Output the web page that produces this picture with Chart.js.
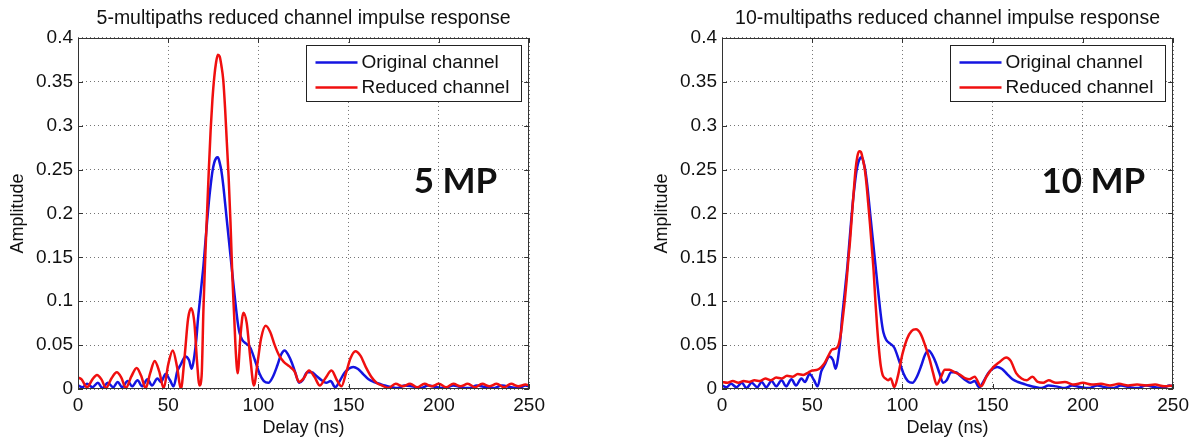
<!DOCTYPE html>
<html>
<head>
<meta charset="utf-8">
<script src="https://cdn.jsdelivr.net/npm/chart.js@4.4.1/dist/chart.umd.min.js"></script>
<style>
  body { margin: 0; background: #fff; }
  canvas { position: absolute; top: 0; }
  #chart5 { left: 0; }
  #chart10 { left: 644px; }
</style>
</head>
<body>
<canvas id="chart5" width="550" height="441"></canvas>
<canvas id="chart10" width="550" height="441"></canvas>
<script>
// tick labels
var delayTicks = ['0', '50', '100', '150', '200', '250'];
var ampTicks = ['0', '0.05', '0.1', '0.15', '0.2', '0.25', '0.3', '0.35', '0.4'];

// original channel (same in both plots)
var delayOriginal = [0, 2.5, 5, 8, 11, 13.5, 16.5, 19.5, 22, 24.5,
    27.5, 30, 33, 35.5, 38.5, 41, 44, 46, 48.5, 51,
    53, 55, 57, 59.5, 61.5, 63, 64.5, 65.5, 66.5, 67.5,
    68.5, 69.5, 70.5, 71.5, 72.5, 73.5, 74.5, 75.5, 76.5, 77.5,
    78.5, 79.5, 80.5, 81.5, 82.5, 83.5, 84.5, 85.5, 86.5, 87.5,
    88.5, 89.5, 91, 93, 95.5, 98, 100.5, 103, 105.5, 108,
    110.5, 112.5, 114.5, 116.5, 118.5, 120.5, 122.5, 124.5, 127, 129.5,
    132, 135, 137.5, 140, 142.5, 145, 147.5, 150, 152.5, 155,
    158, 161, 164, 167, 170, 174, 177, 181, 185, 190,
    194, 199, 203, 208, 212, 217, 221, 226, 230, 235,
    240, 244, 248, 250];
var ampOriginal = [0.004, 0.002, 0.006, 0.002, 0.007, 0.001, 0.007, 0.002, 0.008, 0.002,
    0.009, 0.003, 0.010, 0.003, 0.011, 0.004, 0.012, 0.008, 0.017, 0.010,
    0.003, 0.020, 0.028, 0.037, 0.033, 0.023, 0.038, 0.055, 0.080, 0.100,
    0.120, 0.140, 0.165, 0.190, 0.213, 0.232, 0.248, 0.258, 0.263, 0.264,
    0.258, 0.248, 0.232, 0.212, 0.192, 0.172, 0.152, 0.132, 0.112, 0.093,
    0.076, 0.064, 0.056, 0.052, 0.047, 0.033, 0.018, 0.009, 0.007, 0.014,
    0.027, 0.039, 0.044, 0.039, 0.030, 0.018, 0.007, 0.010, 0.019, 0.019,
    0.015, 0.010, 0.007, 0.009, 0.002, 0.009, 0.018, 0.023, 0.025, 0.023,
    0.017, 0.011, 0.008, 0.006, 0.004, 0.002, 0.001, 0.004, 0.003, 0.001,
    0.004, 0.002, 0.001, 0.004, 0.002, 0.001, 0.004, 0.002, 0.001, 0.004,
    0.002, 0.001, 0.004, 0.003];

// reduced channel, 5 multipaths
var delayReduced5 = [0, 2, 5, 8, 10.5, 13, 15.5, 18.5, 21.5, 24,
    26.5, 29.5, 32.5, 35, 37.5, 40, 42.5, 45, 47.5, 50,
    52.5, 55, 57, 59, 61, 62.7, 64.5, 66, 67.3, 68.5,
    69.5, 70.5, 71.5, 72.5, 73.5, 74.5, 75.5, 76.5, 77.5, 78.5,
    79.5, 80.5, 81.5, 82.5, 83.5, 84.5, 85.5, 86.5, 87.5, 88.5,
    90, 91.7, 93.5, 95.5, 97.5, 99.5, 101.5, 104, 106.5, 109,
    111.5, 114, 117, 120, 122.5, 125, 128, 131, 134, 137,
    140.5, 143.5, 146, 148.5, 151, 153.7, 156.5, 159.5, 162.5, 165.5,
    168.5, 172, 176, 180, 184, 188, 192, 196, 200, 204,
    208, 212, 216, 220, 224, 228, 232, 236, 240, 244,
    248, 250];
var ampReduced5 = [0.013, 0.011, 0.002, 0.011, 0.016, 0.011, 0.001, 0.012, 0.019, 0.013,
    0.001, 0.014, 0.024, 0.015, 0.001, 0.018, 0.032, 0.020, 0.001, 0.028,
    0.044, 0.024, 0.000, 0.035, 0.080, 0.092, 0.075, 0.030, 0.004, 0.015,
    0.090, 0.150, 0.200, 0.250, 0.295, 0.330, 0.355, 0.372, 0.381, 0.379,
    0.368, 0.352, 0.320, 0.280, 0.240, 0.190, 0.130, 0.085, 0.040, 0.018,
    0.060, 0.087, 0.075, 0.035, 0.004, 0.030, 0.058, 0.072, 0.065, 0.050,
    0.038, 0.031, 0.026, 0.020, 0.008, 0.012, 0.021, 0.014, 0.004, 0.012,
    0.021, 0.010, 0.003, 0.018, 0.035, 0.043, 0.038, 0.025, 0.014, 0.007,
    0.004, 0.001, 0.006, 0.003, 0.006, 0.002, 0.006, 0.003, 0.006, 0.002,
    0.006, 0.003, 0.006, 0.002, 0.006, 0.003, 0.006, 0.002, 0.006, 0.003,
    0.005, 0.004];

// reduced channel, 10 multipaths
var delayReduced10 = [0, 3, 6, 9, 12, 15, 18, 21, 24, 27,
    30, 33, 36, 39, 42, 45, 48, 50, 53, 55,
    57, 59, 61, 63, 64.5, 66, 67, 68, 69, 70,
    71, 72, 73, 74, 75, 76, 77, 78, 79, 80,
    81, 82, 83, 84, 85, 86, 87, 88, 89, 90.5,
    92, 93.5, 95.5, 97.5, 100, 102.5, 105, 107.5, 110, 112.5,
    115, 117, 119, 121, 123.5, 126, 129, 132, 135, 137,
    140, 143.5, 146.5, 150, 154, 157.5, 160, 163, 166, 169,
    172, 175, 178, 181, 185, 190, 195, 200, 205, 210,
    215, 220, 225, 230, 235, 240, 245, 250];
var ampReduced10 = [0.008, 0.007, 0.009, 0.007, 0.009, 0.008, 0.010, 0.009, 0.012, 0.010,
    0.013, 0.012, 0.015, 0.014, 0.017, 0.016, 0.019, 0.021, 0.022, 0.025,
    0.030, 0.038, 0.045, 0.046, 0.050, 0.065, 0.082, 0.100, 0.122, 0.147,
    0.170, 0.198, 0.225, 0.250, 0.265, 0.271, 0.270, 0.262, 0.252, 0.235,
    0.212, 0.188, 0.162, 0.135, 0.100, 0.070, 0.045, 0.026, 0.016, 0.012,
    0.010, 0.012, 0.002, 0.015, 0.040, 0.057, 0.066, 0.068, 0.063, 0.050,
    0.034, 0.018, 0.005, 0.012, 0.022, 0.022, 0.019, 0.016, 0.012, 0.011,
    0.014, 0.003, 0.014, 0.024, 0.031, 0.036, 0.032, 0.018, 0.012, 0.010,
    0.014, 0.008, 0.007, 0.010, 0.007, 0.008, 0.005, 0.007, 0.005, 0.006,
    0.004, 0.006, 0.004, 0.005, 0.004, 0.005, 0.003, 0.004];

var seriesLabels = ['Original channel', 'Reduced channel'];
var seriesColors = ['rgb(20,20,225)', 'rgb(240,15,15)'];

Chart.defaults.font.family = '"Liberation Sans", Arial, sans-serif';
Chart.defaults.color = '#111';

function toPoints(xs, ys) {
    return xs.map(function (x, i) { return { x: x, y: ys[i] }; });
}

// frame, inner tick marks, boxed legend and the "N MP" note
var matlabPlugin = {
    id: 'matlab',
    afterDraw: function (chart, args, opts) {
        var ctx = chart.ctx;
        var a = chart.chartArea;
        var xs = chart.scales.x, ys = chart.scales.y;
        ctx.save();
        ctx.strokeStyle = '#333';
        ctx.lineWidth = 1;
        ctx.strokeRect(Math.round(a.left) + 0.5, Math.round(a.top) + 0.5,
            Math.round(a.right - a.left) - 1, Math.round(a.bottom - a.top) - 1);
        ctx.beginPath();
        xs.ticks.forEach(function (t) {
            var px = Math.round(xs.getPixelForValue(t.value)) + 0.5;
            ctx.moveTo(px, a.bottom); ctx.lineTo(px, a.bottom - 5);
            ctx.moveTo(px, a.top); ctx.lineTo(px, a.top + 5);
        });
        ys.ticks.forEach(function (t) {
            var py = Math.round(ys.getPixelForValue(t.value)) + 0.5;
            ctx.moveTo(a.left, py); ctx.lineTo(a.left + 5, py);
            ctx.moveTo(a.right, py); ctx.lineTo(a.right - 5, py);
        });
        ctx.stroke();

        // note
        ctx.fillStyle = '#111';
        ctx.font = 'bold 35px Lato, "Open Sans", sans-serif';
        ctx.textAlign = 'left';
        ctx.textBaseline = 'middle';
        ctx.fillText(opts.note, xs.getPixelForValue(opts.noteDelay), ys.getPixelForValue(opts.noteAmp));

        // legend box
        var w = 215, h = 56;
        var bx = Math.round(a.right - 8 - w) + 0.5, by = Math.round(a.top + 7) + 0.5;
        ctx.fillStyle = '#fff';
        ctx.fillRect(bx, by, w, h);
        ctx.strokeStyle = '#222';
        ctx.strokeRect(bx, by, w, h);
        ctx.font = '19px "Liberation Sans", Arial, sans-serif';
        ctx.textBaseline = 'middle';
        chart.data.datasets.forEach(function (ds, i) {
            var ry = by + 17 + i * 25;
            ctx.strokeStyle = ds.borderColor;
            ctx.lineWidth = 2.5;
            ctx.beginPath();
            ctx.moveTo(bx + 9, ry); ctx.lineTo(bx + 51, ry);
            ctx.stroke();
            ctx.fillStyle = '#111';
            ctx.fillText(ds.label, bx + 55, ry);
        });
        ctx.restore();
    }
};

function LoadChart(canvas, title, reducedX, reducedY, note, noteDelay) {
    var chartData = {
        datasets: [{
            label: seriesLabels[0],
            data: toPoints(delayOriginal, ampOriginal),
            borderColor: seriesColors[0],
            order: 1,
        }, {
            label: seriesLabels[1],
            data: toPoints(reducedX, reducedY),
            borderColor: seriesColors[1],
            order: 0,
        }]
    };
    var chartOptions = {
        responsive: false,
        animation: false,
        layout: { padding: { left: 0, right: 19, top: 0, bottom: 0 } },
        elements: {
            point: { radius: 0 },
            line: { borderWidth: 2.5, cubicInterpolationMode: 'monotone' },
        },
        plugins: {
            legend: { display: false },
            tooltip: { enabled: false },
            title: {
                display: true,
                text: title,
                fullSize: false,
                color: '#111',
                font: { size: 19.5, weight: 'normal', lineHeight: 1.05 },
                padding: { top: 8, bottom: 9.5 },
            },
            matlab: { note: note, noteDelay: noteDelay, noteAmp: 0.236 },
        },
        scales: {
            x: {
                type: 'linear',
                min: 0,
                max: 250,
                ticks: {
                    stepSize: 50,
                    padding: 5,
                    color: '#111',
                    font: { size: 19 },
                    callback: function (v, i) { return delayTicks[i]; },
                },
                grid: { color: 'rgba(70,70,70,0.75)', drawTicks: false },
                border: { display: false, dash: [1, 3] },
                title: {
                    display: true,
                    text: 'Delay (ns)',
                    color: '#111',
                    font: { size: 18 },
                    padding: { top: 0, bottom: 2 },
                },
                afterFit: function (scale) { scale.height = 52; },
            },
            y: {
                type: 'linear',
                min: 0,
                max: 0.4,
                ticks: {
                    stepSize: 0.05,
                    padding: 5,
                    color: '#111',
                    font: { size: 19 },
                    callback: function (v, i) { return ampTicks[i]; },
                },
                grid: { color: 'rgba(70,70,70,0.75)', drawTicks: false },
                border: { display: false, dash: [1, 3] },
                title: {
                    display: true,
                    text: 'Amplitude',
                    color: '#111',
                    font: { size: 18 },
                    padding: { top: 7, bottom: 0 },
                },
                afterFit: function (scale) { scale.width = 78; },
            }
        },
    };
    var ctx = document.getElementById(canvas).getContext('2d');
    return new Chart(ctx, {
        type: 'line',
        data: chartData,
        options: chartOptions,
        plugins: [matlabPlugin]
    });
}

LoadChart('chart5', '5-multipaths reduced channel impulse response',
    delayReduced5, ampReduced5, '5 MP', 186);
LoadChart('chart10', '10-multipaths reduced channel impulse response',
    delayReduced10, ampReduced10, '10 MP', 177);
</script>
</body>
</html>
